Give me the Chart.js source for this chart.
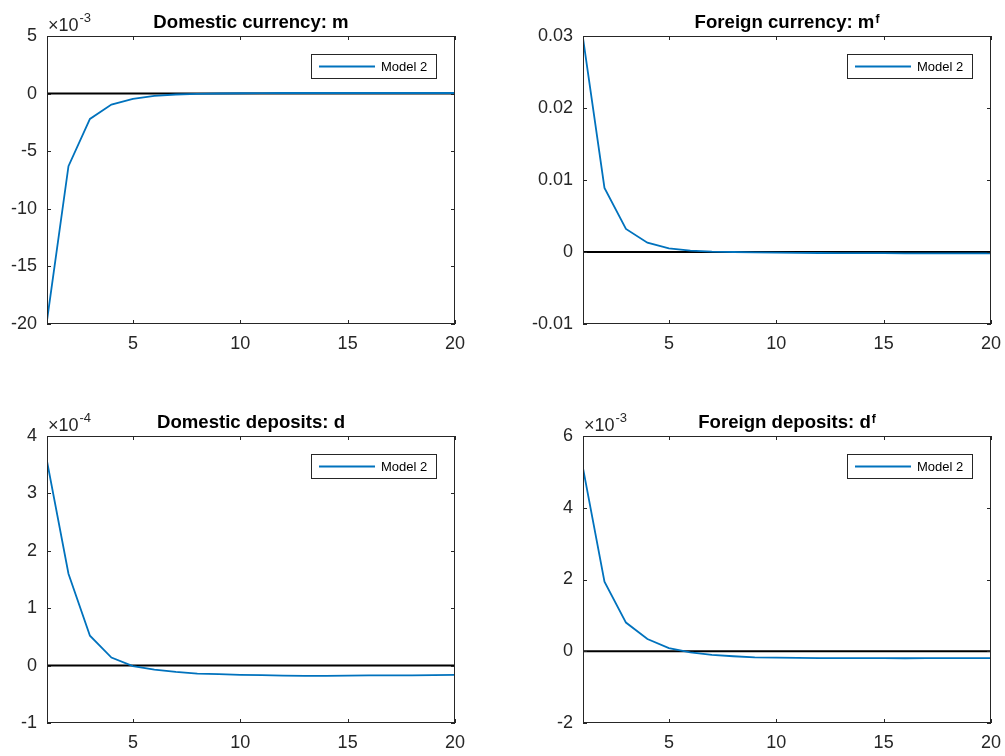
<!DOCTYPE html>
<html>
<head>
<meta charset="utf-8">
<script src="https://cdn.jsdelivr.net/npm/chart.js@4.4.1/dist/chart.umd.min.js"></script>
<style>
  html, body { margin: 0; padding: 0; background: #ffffff; }
  body { width: 1005px; height: 756px; position: relative; overflow: hidden; }
  canvas { position: absolute; }
</style>
</head>
<body>
<canvas id="c1"></canvas>
<canvas id="c2"></canvas>
<canvas id="c3"></canvas>
<canvas id="c4"></canvas>
<script>
// ---------------- data ----------------
const periods = [1, 2, 3, 4, 5, 6, 7, 8, 9, 10, 11, 12, 13, 14, 15, 16, 17, 18, 19, 20];

// Domestic currency m  (units of 1e-3)
const domesticCurrency = [-19.7, -6.3, -2.2, -0.95, -0.45, -0.2, -0.08, -0.02, 0.01, 0.03,
                          0.04, 0.05, 0.05, 0.05, 0.05, 0.05, 0.05, 0.05, 0.05, 0.05];
// Foreign currency m^f
const foreignCurrency = [0.0297, 0.0089, 0.0032, 0.0013, 0.0005, 0.0002, 0.00005, 0.0, -0.00005, -0.0001,
                         -0.00012, -0.00014, -0.00015, -0.00016, -0.00017, -0.00018, -0.00018, -0.00019, -0.0002, -0.0002];
// Domestic deposits d  (units of 1e-4)
const domesticDeposits = [3.56, 1.6, 0.52, 0.14, -0.01, -0.07, -0.11, -0.14, -0.15, -0.16,
                          -0.165, -0.175, -0.18, -0.18, -0.175, -0.17, -0.17, -0.17, -0.165, -0.16];
// Foreign deposits d^f  (units of 1e-3)
const foreignDeposits = [5.1, 1.94, 0.8, 0.34, 0.09, -0.03, -0.1, -0.14, -0.17, -0.18,
                         -0.185, -0.19, -0.19, -0.19, -0.19, -0.195, -0.19, -0.19, -0.19, -0.19];
// zero reference line
const zeroLine = [0, 0, 0, 0, 0, 0, 0, 0, 0, 0, 0, 0, 0, 0, 0, 0, 0, 0, 0, 0];

const seriesName = 'Model 2';

// tick values and labels
const xTicks = [5, 10, 15, 20];
const xTickLabels = ['5', '10', '15', '20'];
const yTicks1 = [-20, -15, -10, -5, 0, 5];
const yTickLabels1 = ['-20', '-15', '-10', '-5', '0', '5'];
const yTicks2 = [-0.01, 0, 0.01, 0.02, 0.03];
const yTickLabels2 = ['-0.01', '0', '0.01', '0.02', '0.03'];
const yTicks3 = [-1, 0, 1, 2, 3, 4];
const yTickLabels3 = ['-1', '0', '1', '2', '3', '4'];
const yTicks4 = [-2, 0, 2, 4, 6];
const yTickLabels4 = ['-2', '0', '2', '4', '6'];

// titles (main text + superscript) and axis exponent labels
const titleMain = ['Domestic currency: m', 'Foreign currency: m', 'Domestic deposits: d', 'Foreign deposits: d'];
const titleSup = ['', 'f', '', 'f'];
const yExponent = ['-3', '', '-4', '-3'];

// ---------------- layout / style ----------------
const FONT = '"Liberation Sans", Arial, Helvetica, sans-serif';
const AXIS_COLOR = '#262626';
const BLUE = '#0072BD';
const PADL = 70, PADT = 45, PADR = 25, PADB = 45;

function drawPlugin(idx) {
  return {
    id: 'matlabDecor' + idx,
    afterDraw(chart) {
      const ctx = chart.ctx;
      const a = chart.chartArea;
      const xs = chart.scales.x, ys = chart.scales.y;
      ctx.save();
      // box
      ctx.strokeStyle = AXIS_COLOR;
      ctx.lineWidth = 1;
      ctx.strokeRect(Math.round(a.left) + 0.5, Math.round(a.top) + 0.5,
                     Math.round(a.right - a.left) - 1, Math.round(a.bottom - a.top) - 1);
      // inward tick marks on all four sides
      const tl = 4;
      ctx.beginPath();
      xs.ticks.forEach(t => {
        const px = Math.round(xs.getPixelForValue(t.value)) + 0.5;
        ctx.moveTo(px, a.bottom); ctx.lineTo(px, a.bottom - tl);
        ctx.moveTo(px, a.top); ctx.lineTo(px, a.top + tl);
      });
      ys.ticks.forEach(t => {
        const py = Math.round(ys.getPixelForValue(t.value)) + 0.5;
        ctx.moveTo(a.left, py); ctx.lineTo(a.left + tl, py);
        ctx.moveTo(a.right, py); ctx.lineTo(a.right - tl, py);
      });
      ctx.stroke();

      // title with optional superscript
      const main = titleMain[idx], sup = titleSup[idx];
      ctx.fillStyle = '#000000';
      ctx.textBaseline = 'alphabetic';
      ctx.textAlign = 'left';
      ctx.font = 'bold 18.6px ' + FONT;
      const wm = ctx.measureText(main).width;
      ctx.font = 'bold 12px ' + FONT;
      const ws = sup ? ctx.measureText(sup).width + 1 : 0;
      const cx = (a.left + a.right) / 2;
      const x0 = cx - (wm + ws) / 2;
      const base = a.top - 8;
      ctx.font = 'bold 18.6px ' + FONT;
      ctx.fillText(main, x0, base);
      if (sup) {
        ctx.font = 'bold 12px ' + FONT;
        ctx.fillText(sup, x0 + wm + 1, base - 5);
      }

      // exponent label  x10^n
      const ex = yExponent[idx];
      if (ex) {
        ctx.fillStyle = AXIS_COLOR;
        ctx.font = '18px ' + FONT;
        const s = '\u00D710';
        ctx.fillText(s, a.left + 1, a.top - 5);
        const w = ctx.measureText(s).width;
        ctx.font = '13px ' + FONT;
        ctx.fillText(ex, a.left + 1 + w + 1, a.top - 14);
      }

      // legend box
      const lw = 125, lh = 24;
      const lx = Math.round(a.right - 19 - lw), ly = Math.round(a.top + 18);
      ctx.fillStyle = '#ffffff';
      ctx.fillRect(lx, ly, lw, lh);
      ctx.strokeStyle = AXIS_COLOR;
      ctx.lineWidth = 1;
      ctx.strokeRect(lx + 0.5, ly + 0.5, lw, lh);
      const ds = chart.data.datasets[0];
      ctx.strokeStyle = ds.borderColor;
      ctx.lineWidth = 2;
      ctx.beginPath();
      ctx.moveTo(lx + 8, ly + lh / 2 + 0.5);
      ctx.lineTo(lx + 64, ly + lh / 2 + 0.5);
      ctx.stroke();
      ctx.fillStyle = '#000000';
      ctx.font = '13px ' + FONT;
      ctx.textBaseline = 'middle';
      ctx.fillText(ds.label, lx + 70, ly + lh / 2 + 1);
      ctx.restore();
    }
  };
}

function makeChart(idx, canvasId, box, values, yMin, yMax, yTicks, yLabels) {
  const cv = document.getElementById(canvasId);
  const W = (box.R - box.L) + PADL + PADR;
  const H = (box.B - box.T) + PADT + PADB;
  cv.width = W; cv.height = H;
  cv.style.width = W + 'px'; cv.style.height = H + 'px';
  cv.style.left = (box.L - PADL) + 'px';
  cv.style.top = (box.T - PADT) + 'px';

  return new Chart(cv.getContext('2d'), {
    type: 'line',
    data: {
      datasets: [
        {
          label: seriesName,
          data: periods.map((p, i) => ({ x: p, y: values[i] })),
          borderColor: BLUE,
          borderWidth: 1.8,
          pointRadius: 0,
          tension: 0,
          fill: false
        },
        {
          label: 'zero',
          data: periods.map((p, i) => ({ x: p, y: zeroLine[i] })),
          borderColor: '#000000',
          borderWidth: 2,
          pointRadius: 0,
          tension: 0,
          fill: false
        }
      ]
    },
    options: {
      responsive: false,
      devicePixelRatio: 1,
      animation: false,
      events: [],
      layout: { padding: { left: 0, top: PADT, right: PADR, bottom: 0 } },
      plugins: { legend: { display: false }, title: { display: false }, tooltip: { enabled: false } },
      scales: {
        x: {
          type: 'linear',
          min: 1, max: 20,
          afterBuildTicks: s => { s.ticks = xTicks.map(v => ({ value: v })); },
          afterFit: s => { s.height = PADB; },
          grid: { display: false, drawTicks: false },
          border: { display: false },
          ticks: {
            autoSkip: false, maxRotation: 0, minRotation: 0, padding: 9,
            color: AXIS_COLOR, font: { family: FONT, size: 18 },
            callback: (v) => { const k = xTicks.indexOf(v); return k >= 0 ? xTickLabels[k] : ''; }
          }
        },
        y: {
          type: 'linear',
          min: yMin, max: yMax,
          afterBuildTicks: s => { s.ticks = yTicks.map(v => ({ value: v })); },
          afterFit: s => { s.width = PADL; },
          grid: { display: false, drawTicks: false },
          border: { display: false },
          ticks: {
            autoSkip: false, padding: 10,
            color: AXIS_COLOR, font: { family: FONT, size: 18 },
            callback: (v) => {
              let k = -1;
              yTicks.forEach((t, j) => { if (Math.abs(t - v) < 1e-9) k = j; });
              return k >= 0 ? yLabels[k] : '';
            }
          }
        }
      }
    },
    plugins: [drawPlugin(idx)]
  });
}

makeChart(0, 'c1', { L: 47, T: 36, R: 455, B: 324 }, domesticCurrency, -20, 5, yTicks1, yTickLabels1);
makeChart(1, 'c2', { L: 583, T: 36, R: 991, B: 324 }, foreignCurrency, -0.01, 0.03, yTicks2, yTickLabels2);
makeChart(2, 'c3', { L: 47, T: 436, R: 455, B: 723 }, domesticDeposits, -1, 4, yTicks3, yTickLabels3);
makeChart(3, 'c4', { L: 583, T: 436, R: 991, B: 723 }, foreignDeposits, -2, 6, yTicks4, yTickLabels4);
</script>
</body>
</html>
